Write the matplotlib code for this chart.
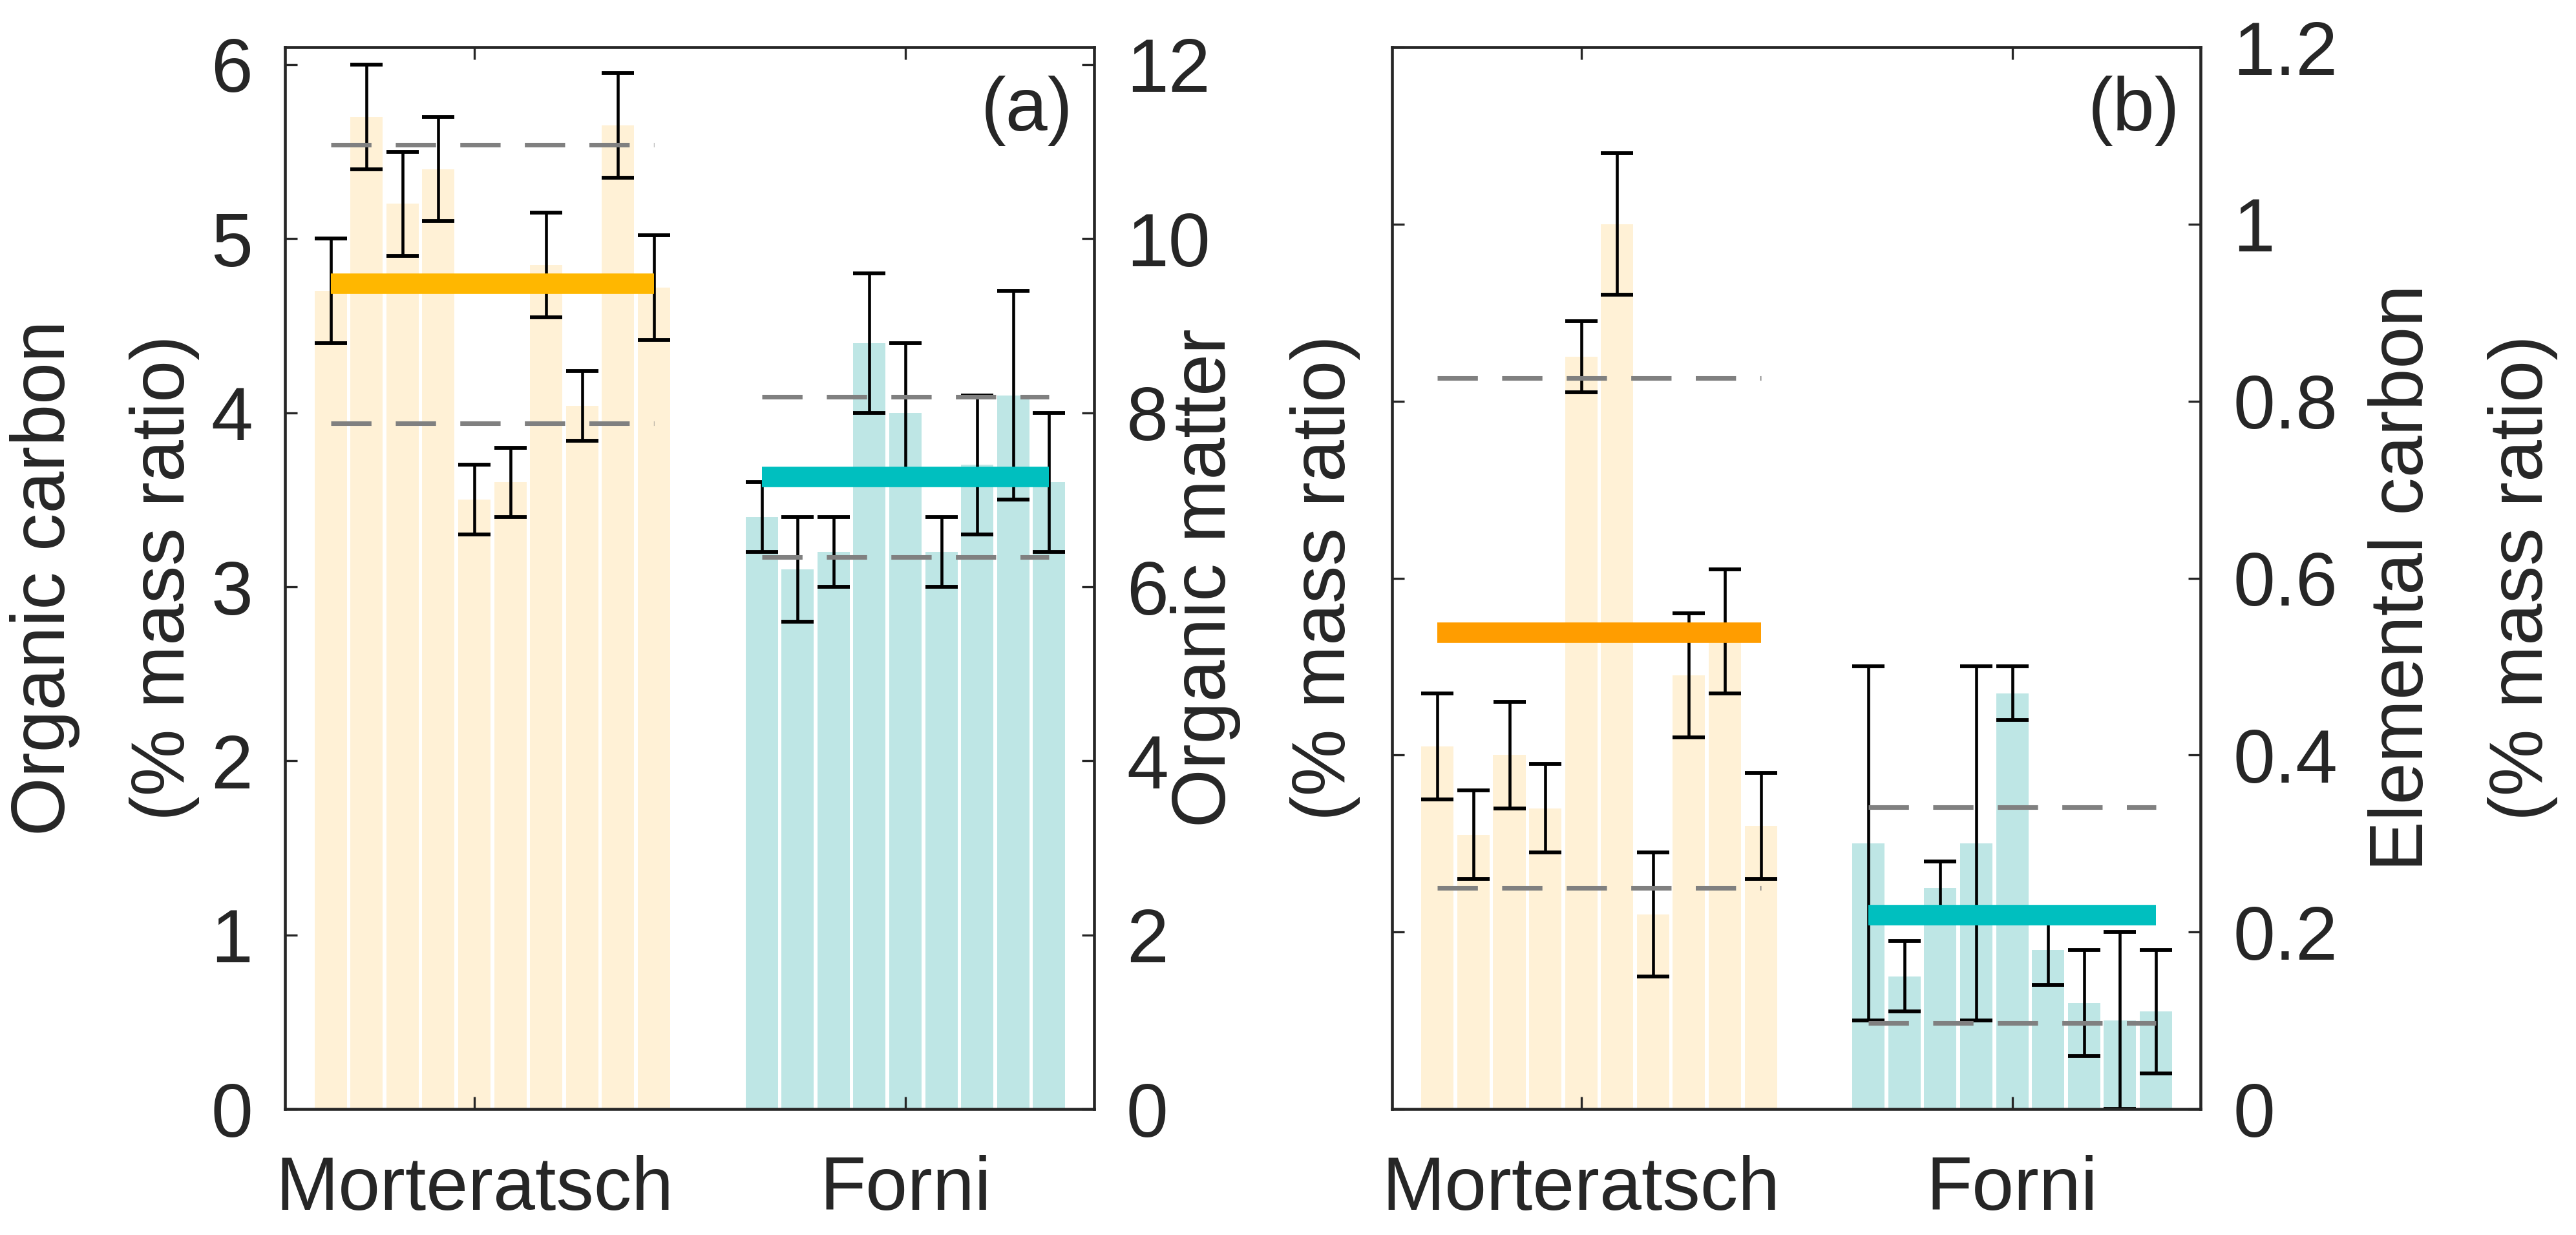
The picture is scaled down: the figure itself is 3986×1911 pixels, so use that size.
import matplotlib
matplotlib.use("Agg")
import matplotlib.pyplot as plt
import numpy as np

plt.rcParams['font.family'] = ['Liberation Sans', 'DejaVu Sans']
plt.rcParams['font.size'] = 28
plt.rcParams['text.color'] = '#262626'
plt.rcParams['axes.labelcolor'] = '#262626'
plt.rcParams['xtick.color'] = '#262626'
plt.rcParams['ytick.color'] = '#262626'

# sites on the x axis
sites = ['Morteratsch', 'Forni']

# (a) organic carbon, % mass ratio, per sample
oc_mort = [4.70, 5.70, 5.20, 5.40, 3.50, 3.60, 4.85, 4.04, 5.65, 4.72]
oc_mort_err = [0.30, 0.30, 0.30, 0.30, 0.20, 0.20, 0.30, 0.20, 0.30, 0.30]
oc_forni = [3.40, 3.10, 3.20, 4.40, 4.00, 3.20, 3.70, 4.10, 3.60]
oc_forni_err = [0.20, 0.30, 0.20, 0.40, 0.40, 0.20, 0.40, 0.60, 0.40]
oc_mean = [4.74, 3.63]   # group mean (thick line)
oc_sd = [0.80, 0.46]     # group std (dashed lines)

# (b) elemental carbon, % mass ratio, per sample
ec_mort = [0.41, 0.31, 0.40, 0.34, 0.85, 1.00, 0.22, 0.49, 0.54, 0.32]
ec_mort_err = [0.06, 0.05, 0.06, 0.05, 0.04, 0.08, 0.07, 0.07, 0.07, 0.06]
ec_forni = [0.30, 0.15, 0.25, 0.30, 0.47, 0.18, 0.12, 0.10, 0.11]
ec_forni_err = [0.20, 0.04, 0.03, 0.20, 0.03, 0.04, 0.06, 0.10, 0.07]
ec_mean = [0.538, 0.219]
ec_sd = [0.288, 0.122]

col_bar = ['#FFF1D6', '#BEE6E5']
col_err = 'black'
col_dash = '#808080'


def panel(ax, mort, mort_err, forni, forni_err, means, sds, mean_cols):
    x_m = np.arange(len(mort))
    x_f = np.arange(len(forni)) + len(mort) + 2
    groups = [(x_m, mort, mort_err), (x_f, forni, forni_err)]
    for i, (xx, vals, err) in enumerate(groups):
        ax.bar(xx, vals, width=0.9, color=col_bar[i], zorder=1)
        ax.errorbar(xx, vals, yerr=err, fmt='none', ecolor=col_err,
                    elinewidth=1.1, capsize=6, capthick=1.4, zorder=2)
        x0, x1 = xx[0], xx[-1]
        for s in (-1, 1):
            ax.plot([x0, x1], [means[i] + s * sds[i]] * 2, color=col_dash,
                    lw=1.7, dashes=(8.8, 5.3), solid_capstyle='butt',
                    dash_capstyle='butt', zorder=3)
        ax.plot([x0, x1], [means[i]] * 2, color=mean_cols[i], lw=7.6,
                solid_capstyle='butt', zorder=4)
    ax.set_xlim(-1.27, 21.25)
    ax.set_xticks([x_m[4], x_f[4]])
    ax.set_xticklabels(sites)
    for sp in ax.spines.values():
        sp.set_linewidth(1.1)
        sp.set_color('#262626')
    ax.tick_params(direction='in', length=4.6, width=0.8, top=True,
                   right=True, pad=12)
    ax.tick_params(axis='x', pad=17)


fig = plt.figure(figsize=(3987 / 300, 1911 / 300), dpi=300)

ax1 = fig.add_axes([0.1106, 0.1020, 0.3140, 0.8598])
panel(ax1, oc_mort, oc_mort_err, oc_forni, oc_forni_err, oc_mean, oc_sd,
      ['#FFB700', '#00BFBF'])
ax1.set_ylim(0, 6.1)
ax1.set_yticks(range(0, 7))
ax1.text(0.974, 0.94, '(a)', transform=ax1.transAxes, ha='right', va='center')

ax1r = ax1.twinx()
ax1r.set_ylim(0, 12.2)
ax1r.set_yticks(range(0, 13, 2))
ax1r.tick_params(direction='in', length=4.6, width=0.8, pad=12)
for sp in ax1r.spines.values():
    sp.set_visible(False)

ax2 = fig.add_axes([0.5402, 0.1020, 0.3139, 0.8598])
panel(ax2, ec_mort, ec_mort_err, ec_forni, ec_forni_err, ec_mean, ec_sd,
      ['#FF9D00', '#00BFBF'])
ax2.set_ylim(0, 1.2)
ax2.set_yticks([0, 0.2, 0.4, 0.6, 0.8, 1.0, 1.2])
ax2.set_yticklabels(['0', '0.2', '0.4', '0.6', '0.8', '1', '1.2'])
ax2.tick_params(axis='y', labelleft=False, labelright=True)
ax2.text(0.974, 0.94, '(b)', transform=ax2.transAxes, ha='right', va='center')

# two-line axis labels, centred on the axes height
ylabels = [(0.0406, 'Organic carbon\n(% mass ratio)'),
           (0.4911, 'Organic matter\n(% mass ratio)'),
           (0.9559, 'Elemental carbon\n(% mass ratio)')]
for xf, txt in ylabels:
    fig.text(xf, 0.532, txt, rotation=90, ha='center', va='center',
             linespacing=1.9, multialignment='center')

fig.savefig('out.png', dpi=300)
